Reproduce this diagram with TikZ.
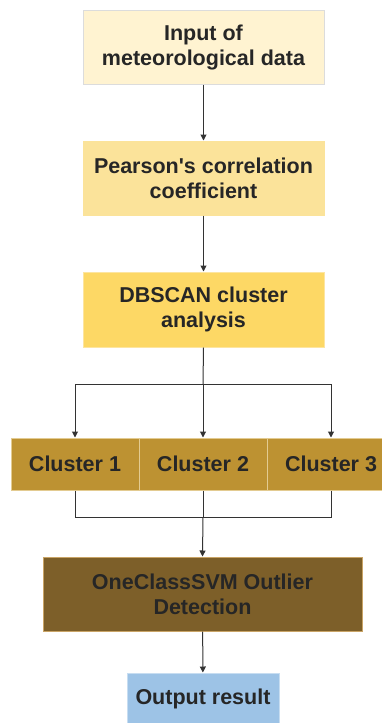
\documentclass[tikz,border=0pt]{standalone}
\usepackage{fontspec}
\setmainfont{Liberation Sans}
\usetikzlibrary{arrows.meta}
\definecolor{txt}{HTML}{262626}
\definecolor{lnc}{HTML}{333333}
\definecolor{fA}{HTML}{FFF3D1}
\definecolor{bA}{HTML}{DCDCDC}
\definecolor{fB}{HTML}{FBE39A}
\definecolor{fC}{HTML}{FDD865}
\definecolor{bC}{HTML}{FDE5A0}
\definecolor{fD}{HTML}{BD9232}
\definecolor{bD}{HTML}{E3CB91}
\definecolor{fE}{HTML}{7D5F29}
\definecolor{bE}{HTML}{C9A466}
\definecolor{fF}{HTML}{9DC3E6}
\definecolor{bF}{HTML}{C7DDF1}
\tikzset{
  box/.style={rectangle, line width=1pt, align=center, text=txt,
    font=\fontsize{21.5}{25}\selectfont\bfseries, inner sep=0pt},
  conn/.style={draw=lnc, line width=1pt},
  arr/.style={conn, -{Triangle[length=6pt,width=6pt]}}
}
\begin{document}
\begin{tikzpicture}[x=1pt,y=-1pt]
\useasboundingbox (0,0) rectangle (382,723);
\node[box, fill=fA, draw=bA, minimum width=241pt, minimum height=74pt] (b1) at (203.5,47) {Input of\\meteorological data};
\node[box, fill=fB, draw=fB, minimum width=241pt, minimum height=74pt] (b2) at (203.5,178) {Pearson\textquotesingle s correlation\\coefficient};
\node[box, fill=fC, draw=bC, minimum width=241pt, minimum height=75pt] (b3) at (203.5,309.5) {DBSCAN cluster\\analysis};
\node[box, fill=fD, draw=bD, minimum width=128pt, minimum height=52pt] (c1) at (75,464) {Cluster 1};
\node[box, fill=fD, draw=bD, minimum width=128pt, minimum height=52pt] (c2) at (203,464) {Cluster 2};
\node[box, fill=fD, draw=bD, minimum width=128pt, minimum height=52pt] (c3) at (331,464) {Cluster 3};
\node[box, fill=fE, draw=bE, minimum width=319pt, minimum height=74pt] (s) at (202.5,594) {OneClassSVM Outlier\\Detection};
\node[box, fill=fF, draw=bF, minimum width=152pt, minimum height=52pt] (o) at (203,699) {Output result};
\coordinate (split) at (203,384);
\coordinate (join) at (203,517);
\draw[arr] (b1) -- (b2);
\draw[arr] (b2) -- (b3);
\draw[conn] (b3.south) -- (split);
\draw[arr] (split) -| (c1.north);
\draw[arr] (split) -- (c2.north);
\draw[arr] (split) -| (c3.north);
\draw[conn] (c1.south) |- (join);
\draw[conn] (c3.south) |- (join);
\draw[conn] (c2.south) -- (join);
\draw[arr] (join) -- (s.north);
\draw[arr] (s) -- (o);
\end{tikzpicture}
\end{document}
